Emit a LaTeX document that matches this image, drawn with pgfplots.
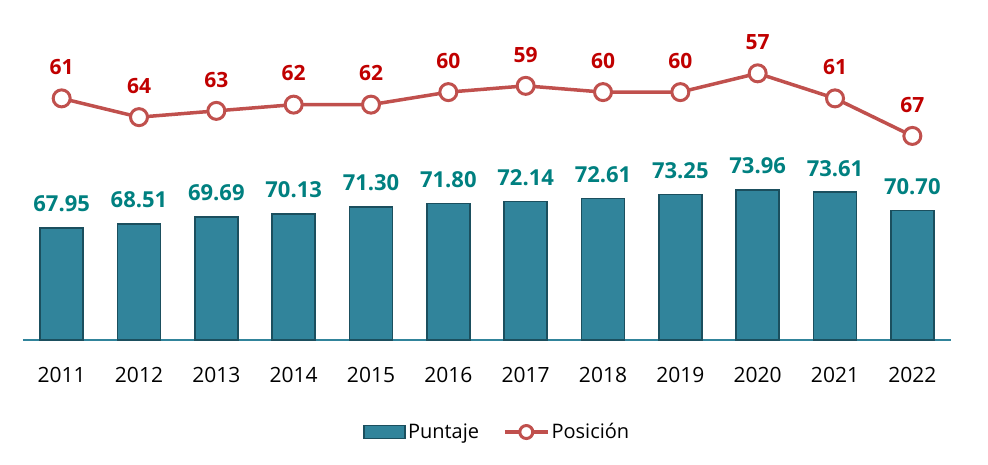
\documentclass[border=0pt]{standalone}
\usepackage{pgfplots}
\pgfplotsset{compat=1.18}
\usepackage{fontspec}
\setmainfont{Open Sans}
\definecolor{barfill}{HTML}{31849B}
\definecolor{barline}{HTML}{1B4F5E}
\definecolor{lbl}{HTML}{008080}
\definecolor{linec}{HTML}{C0504D}
\definecolor{poslbl}{HTML}{C00000}
\pgfplotstableread{
x val
0 67.95
1 68.51
2 69.69
3 70.13
4 71.30
5 71.80
6 72.14
7 72.61
8 73.25
9 73.96
10 73.61
11 70.70
}\puntaje
\pgfplotstableread{
x val
0 61
1 64
2 63
3 62
4 62
5 60
6 59
7 60
8 60
9 57
10 61
11 67
}\posicion
\begin{document}
\begin{tikzpicture}
\path[use as bounding box] (0pt,0pt) rectangle (988pt,464pt);
\begin{axis}[at={(23pt,124pt)}, anchor=south west, scale only axis,
  width=928pt, height=313pt,
  xmin=-0.5, xmax=11.5, ymin=50, ymax=100,
  axis x line*=bottom, axis y line=none,
  x axis line style={barfill, line width=1.5pt, -},
  xtick={0,...,11},
  xticklabels={2011,2012,2013,2014,2015,2016,2017,2018,2019,2020,2021,2022},
  major tick length=0pt,
  xticklabel style={font=\fontsize{21}{24}\selectfont, text=black, yshift=-24pt},
  /pgf/number format/assume math mode=true,
  clip=false,
]
\addplot[ybar, bar width=43pt, fill=barfill, draw=barline, line width=1.8pt,
  nodes near coords={\pgfmathprintnumber[fixed, precision=2, fixed zerofill, assume math mode=true]{\pgfplotspointmeta}},
  nodes near coords style={font=\bfseries\fontsize{22}{25}\selectfont, text=lbl, anchor=south, inner sep=0pt, yshift=15pt},
  point meta=explicit] table[x=x, y=val, meta=val] {\puntaje};
\end{axis}
\begin{axis}[at={(23pt,124pt)}, anchor=south west, scale only axis,
  width=928pt, height=313pt,
  xmin=-0.5, xmax=11.5, ymin=49.6, ymax=99.6, y dir=reverse,
  hide axis, clip=false,
  /pgf/number format/assume math mode=true,
  legend style={at={(axis description cs:0.511,-0.294)}, anchor=center, draw=none, fill=none,
    font=\fontsize{20}{23}\selectfont, legend columns=2,
    /tikz/every even column/.append style={column sep=22pt}},
]
\addlegendimage{legend image code/.code={\draw[fill=barfill, draw=barline, line width=1.8pt] (0pt,-6.5pt) rectangle (41pt,6.5pt);}}
\addlegendentry{Puntaje}
\addplot[linec, line width=3.5pt, mark=*, mark size=8.5pt,
  mark options={fill=white, draw=linec, line width=3pt},
  nodes near coords={\pgfmathprintnumber[fixed, precision=0, assume math mode=true]{\pgfplotspointmeta}},
  nodes near coords style={font=\bfseries\fontsize{21}{24}\selectfont, text=poslbl, anchor=south, inner sep=0pt, yshift=22pt},
  point meta=explicit,
  legend image code/.code={\draw[linec, line width=3.5pt] (0pt,0pt) -- (43pt,0pt);
     \draw[fill=white, draw=linec, line width=3pt] (21.5pt,0pt) circle (6.5pt);}
  ] table[x=x, y=val, meta=val] {\posicion};
\addlegendentry{Posición}
\end{axis}
\end{tikzpicture}
\end{document}
